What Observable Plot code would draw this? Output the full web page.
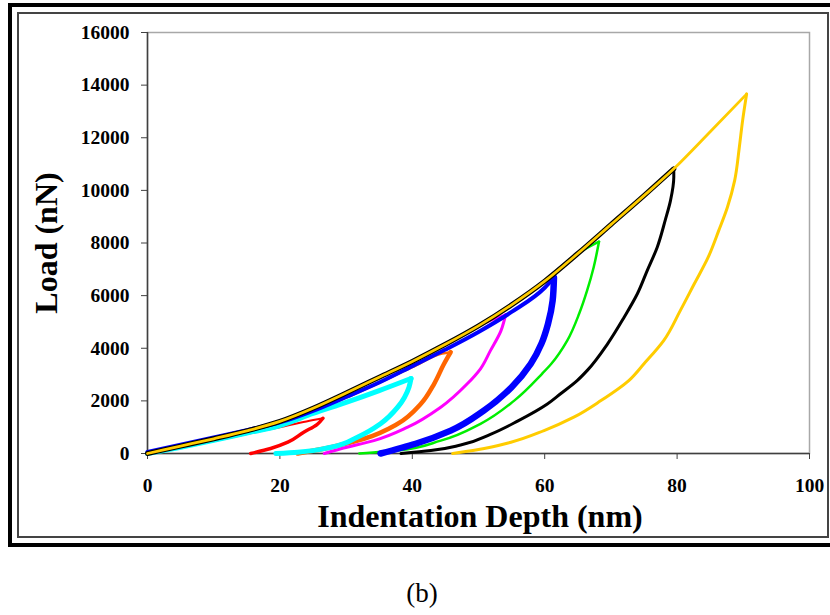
<!DOCTYPE html>
<html>
<head>
<meta charset="utf-8">
<script src="https://cdn.jsdelivr.net/npm/d3@7"></script>
<script src="https://cdn.jsdelivr.net/npm/@observablehq/plot@0.6"></script>
<style>
  body { margin: 0; background: white; }
  #wrap { position: relative; width: 830px; height: 615px; overflow: hidden; background: white; }
  #chart { position: absolute; left: 0; top: 0; }
  .serif { font-family: "Liberation Serif", "Times New Roman", serif; color: black; }
  #outer { position: absolute; left: 8px; top: 3px; width: 840px; height: 536px; border: 4px solid black; }
  #inner { position: absolute; left: 17px; top: 12px; width: 808px; height: 522px; border: 2px solid #444; }
  #ytitle { position: absolute; left: -104px; top: 227px; width: 300px; text-align: center; font-weight: bold; font-size: 32px; line-height: 32px; transform: rotate(-90deg); white-space: nowrap; }
  #xtitle { position: absolute; left: 230px; top: 500px; width: 500px; text-align: center; font-weight: bold; font-size: 32px; line-height: 32px; white-space: nowrap; }
  #caption { position: absolute; left: 322px; top: 580px; width: 200px; text-align: center; font-size: 27px; line-height: 27px; }
</style>
</head>
<body>
<div id="wrap">
  <div id="outer"></div>
  <div id="inner"></div>
  <div id="chart"></div>
  <div id="ytitle" class="serif">Load (nN)</div>
  <div id="xtitle" class="serif">Indentation Depth (nm)</div>
  <div id="caption" class="serif">(b)</div>
</div>
<script>
// ---- data (depth nm, load nN) ----
const xTicks = [0, 20, 40, 60, 80, 100];
const yTicks = [0, 2000, 4000, 6000, 8000, 10000, 12000, 14000, 16000];

const commonLoad = [[0,0],[5,280],[10,560],[15,860],[20,1220],[25,1720],[30,2300],[35,2900],[40,3500],[45,4150],[50,4850],[55,5650],[60,6550],[65,7600],[70,8700],[75,9800],[79.5,10820]];
const yellowLoadExt = [[79.5,10820],[85,12230],[90.5,13660]];

const redLoad = [[0,0],[5,220],[10,470],[15,740],[20,1000],[24,1220],[26.5,1340]];
const redUnload = [[26.5,1340],[25.6,1100],[23.6,810],[21.2,430],[18.6,190],[15.6,0]];

const cyanLoad = [[0,0],[5,240],[10,500],[15,780],[20,1060],[25,1520],[30,1940],[35,2390],[39.8,2850]];
const cyanUnload = [[39.8,2850],[39.5,2520],[37.8,1760],[35.2,1130],[31.7,620],[27.7,240],[22.7,50],[19.4,0]];

const orangeLoad = [[0,30],[10,590],[20,1160],[30,2120],[40,3280],[44.5,3800],[45.8,3850]];
const orangeUnload = [[45.8,3850],[44.8,3410],[43.3,2650],[41.3,1890],[37.8,1130],[32.7,560],[27.7,240],[22.7,0]];

const magentaPeak = [54.1,5280];
const magentaUnload = [[54.1,5280],[53.4,4670],[51.8,3910],[50.3,3220],[48.3,2650],[44.3,1760],[39.3,1000],[34.2,490],[29.2,180],[26.7,0]];

const blueLoad = [[0,60],[5,330],[10,610],[15,890],[20,1180],[25,1620],[30,2150],[35,2700],[40,3320],[45,3950],[50,4620],[55,5380],[60,6300],[61.4,6680]];
const blueUnload = [[61.4,6680],[61.2,5810],[60.5,4930],[59.5,4170],[57.9,3410],[55.0,2520],[50.8,1630],[45.8,870],[40.5,370],[35.2,0]];

const greenPeak = [68.2,8050];
const greenUnload = [[68.2,8050],[67.4,7080],[66.4,6190],[65.2,5310],[63.4,4290],[61.0,3410],[59.6,3030],[55.4,2010],[50.3,1130],[44.3,490],[37.8,110],[32.0,0]];

const blackUnload = [[79.5,10820],[79.5,10500],[79.0,9610],[78.2,8860],[77.0,7840],[75.5,6960],[74.0,6070],[72.0,5180],[69.5,4170],[66.4,3150],[64.9,2770],[62.4,2270],[60.4,1880],[55.9,1230],[51.8,730],[47.3,320],[42.8,110],[38.3,0]];

const yellowUnload = [[90.5,13660],[89.9,12660],[89.4,11640],[88.7,10380],[87.6,9360],[86.3,8480],[84.7,7460],[82.6,6450],[80.5,5440],[78.0,4300],[75.0,3410],[72.7,2770],[68.5,2010],[64.4,1380],[59.9,870],[54.9,430],[49.8,140],[46.1,0]];

const seriesColors = {red:"#ff0000", cyan:"#00ffff", orange:"#ff6600", magenta:"#ff00ff", green:"#00ee00", blue:"#0000ff", black:"#000000", yellow:"#ffcc00"};

// ---- build paths ----
const upTo = (pts, peak) => pts.filter(p => p[0] < peak[0] - 0.5).concat([peak]);
const L = "load", U = "unload";
const paths = [
  {c:"red",     k:L, pts: redLoad,                               w:2},
  {c:"red",     k:U, pts: redUnload,                             w:3.5},
  {c:"orange",  k:L, pts: orangeLoad,                            w:2.5},
  {c:"orange",  k:U, pts: orangeUnload,                          w:4.5},
  {c:"magenta", k:L, pts: upTo(commonLoad, magentaPeak),         w:2.5},
  {c:"magenta", k:U, pts: magentaUnload,                         w:3},
  {c:"green",   k:L, pts: upTo(commonLoad, greenPeak),           w:2.5},
  {c:"green",   k:U, pts: greenUnload,                           w:2.5},
  {c:"cyan",    k:L, pts: cyanLoad,                              w:5},
  {c:"cyan",    k:U, pts: cyanUnload,                            w:5},
  {c:"blue",    k:L, pts: blueLoad,                              w:4},
  {c:"blue",    k:U, pts: blueUnload,                            w:6.5},
  {c:"black",   k:L, pts: commonLoad,                            w:5},
  {c:"black",   k:U, pts: blackUnload,                           w:3},
  {c:"yellow",  k:L, pts: commonLoad.concat(yellowLoadExt.slice(1)), w:2.8},
  {c:"yellow",  k:U, pts: yellowUnload,                          w:3}
];

const lineMarks = paths.map(p => Plot.line(p.k === U ? p.pts.slice().reverse() : p.pts, {
  x: d => d[0], y: d => d[1],
  stroke: seriesColors[p.c], strokeWidth: p.w,
  curve: p.k === U ? "monotone-y" : "monotone-x",
  strokeLinejoin: "round", strokeLinecap: "round"
}));

const chart = Plot.plot({
  width: 830,
  height: 560,
  marginLeft: 147,
  marginRight: 21,
  marginTop: 32,
  marginBottom: 107,
  style: {
    fontFamily: "'Liberation Serif', 'Times New Roman', serif",
    fontSize: "19.5px",
    fontWeight: "bold",
    color: "black",
    background: "transparent",
    overflow: "visible"
  },
  x: {domain: [0, 100]},
  y: {domain: [0, 16000]},
  marks: [
    Plot.frame({stroke: "#a8a8a8", strokeWidth: 1.5}),
    Plot.ruleX([0], {stroke: "#404040", strokeWidth: 1.5}),
    Plot.ruleY([0], {stroke: "#404040", strokeWidth: 1.5}),
    Plot.axisY({ticks: yTicks, tickFormat: d3.format("d"), tickSize: 6, tickPadding: 12, label: null, stroke: "#404040"}),
    Plot.axisX({ticks: xTicks, tickFormat: d3.format("d"), tickSize: 6, tickPadding: 19, label: null, stroke: "#404040"}),
    ...lineMarks
  ]
});
document.getElementById("chart").appendChild(chart);
</script>
</body>
</html>
